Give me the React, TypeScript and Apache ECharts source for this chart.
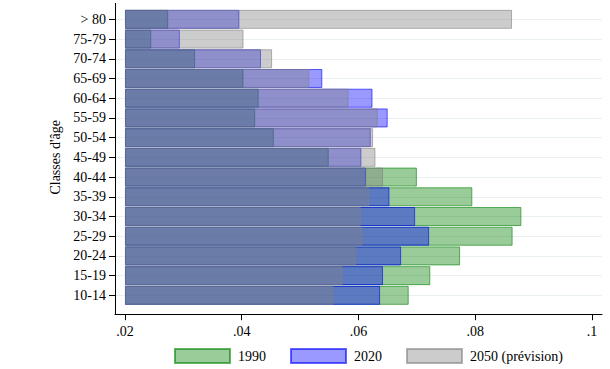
import React, { useEffect, useRef } from "react";
import * as echarts from "echarts";

const categories = ["10-14", "15-19", "20-24", "25-29", "30-34", "35-39", "40-44", "45-49", "50-54", "55-59", "60-64", "65-69", "70-74", "75-79", "> 80"];
const v1990 = [0.0686, 0.0723, 0.0774, 0.0864, 0.0879, 0.0795, 0.07, 0.0549, 0.0455, 0.0423, 0.0429, 0.0403, 0.032, 0.0245, 0.0274];
const v2020 = [0.0637, 0.0642, 0.0673, 0.0721, 0.0697, 0.0653, 0.0613, 0.0605, 0.0621, 0.065, 0.0624, 0.0538, 0.0433, 0.0294, 0.0396];
const v2050 = [0.0557, 0.0573, 0.0596, 0.0607, 0.0604, 0.0618, 0.0642, 0.0629, 0.0625, 0.0633, 0.0583, 0.0516, 0.0452, 0.0403, 0.0863];
const xTicks = [0.02, 0.04, 0.06, 0.08, 0.1];
const seriesNames = ["1990", "2020", "2050 (prévision)"];
const BASE = 0.02;

const FONT = "Liberation Serif";

export default function App() {
  const ref = useRef<HTMLDivElement>(null);
  useEffect(() => {
    if (!ref.current) return;
    const chart = echarts.init(ref.current, null, { renderer: "svg" });
    const fills = ["rgba(0,128,0,0.4)", "rgba(0,0,255,0.4)", "rgba(128,128,128,0.4)"];
    const borders = ["rgba(0,128,0,0.6)", "rgba(0,0,255,0.6)", "rgba(128,128,128,0.6)"];
    const datas = [v1990, v2020, v2050];
    const series: any[] = [];
    series.push({
      type: "line",
      data: [],
      silent: true,
      z: 0,
      markLine: {
        silent: true,
        z: 0,
        symbol: "none",
        label: { show: false },
        lineStyle: { color: "#e8f0f1", width: 1, type: "solid" },
        data: categories.map((c) => ({ yAxis: c })),
      },
    });
    datas.forEach((d, i) => {
      const stack = "s" + i;
      series.push({
        type: "bar",
        stack,
        data: d.map(() => BASE),
        barWidth: 19,
        barGap: "-100%",
        itemStyle: { color: "rgba(0,0,0,0)" },
        silent: true,
        z: 6,
      });
      series.push({
        type: "bar",
        name: seriesNames[i],
        stack,
        data: d.map((v) => +(v - BASE).toFixed(5)),
        barWidth: 19,
        barGap: "-100%",
        itemStyle: { color: fills[i], borderColor: borders[i], borderWidth: 1 },
        z: 6,
      });
    });
    const legendLefts = [174, 290, 406];
    const option: any = {
      animation: false,
      backgroundColor: "#ffffff",
      textStyle: { fontFamily: FONT },
      grid: { left: 115, right: 8, top: 9.5, bottom: 63.8, containLabel: false },
      xAxis: {
        type: "value",
        min: 0.01829,
        max: 0.10171,
        offset: 9,
        axisLine: { show: true, lineStyle: { color: "#000", width: 1 } },
        axisTick: { show: true, length: 6, customValues: xTicks, lineStyle: { color: "#000" } },
        axisLabel: {
          customValues: xTicks,
          margin: 10,
          fontSize: 14,
          fontFamily: FONT,
          color: "#000",
          formatter: (v: number) => String(+v.toFixed(2)).replace(/^0/, ""),
        },
        splitLine: { show: false },
      },
      yAxis: {
        type: "category",
        data: categories,
        name: "Classes d'âge",
        nameLocation: "middle",
        nameGap: 50,
        nameTextStyle: { fontSize: 14, fontFamily: FONT, color: "#000" },
        axisLine: { show: false },
        axisTick: { show: true, alignWithLabel: true, length: 6, lineStyle: { color: "#000" } },
        axisLabel: { fontSize: 14, fontFamily: FONT, color: "#000", margin: 9 },
        splitLine: { show: false },
      },
      legend: seriesNames.map((n, i) => ({
        data: [{ name: n, icon: "rect" }],
        left: legendLefts[i],
        top: 348,
        itemWidth: 55,
        itemHeight: 14,
        padding: 0,
        textStyle: { fontSize: 14, fontFamily: FONT, color: "#000", padding: [0, 0, 0, 3] },
        selectedMode: false,
      })),
      graphic: [
        {
          type: "line",
          shape: { x1: 115.5, y1: 3, x2: 115.5, y2: 314.5 },
          style: { stroke: "#000", lineWidth: 1 },
          z: 10,
        },
      ],
      series,
    };
    chart.setOption(option);
    return () => chart.dispose();
  }, []);
  return <div ref={ref} style={{ position: "absolute", left: 0, top: 0, width: 610, height: 369 }} />;
}
